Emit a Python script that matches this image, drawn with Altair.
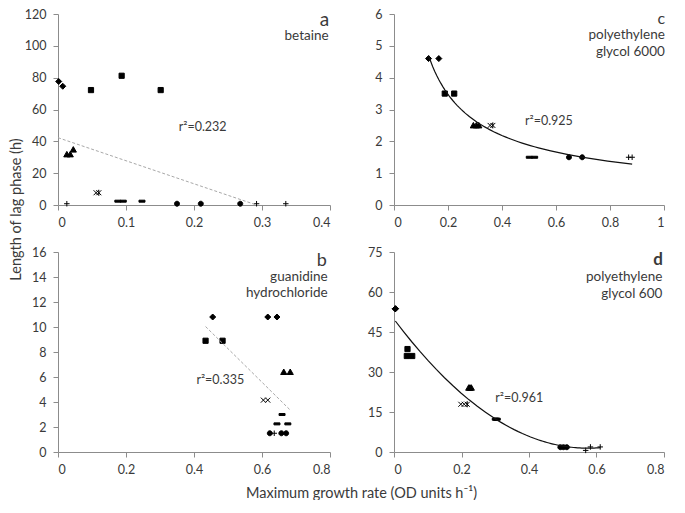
import altair as alt
import pandas as pd

# ---------------- data ----------------
# panel a : betaine
a_marker = ["diamond", "diamond", "square", "square", "square", "triangle", "triangle", "triangle",
            "cross", "star", "dash", "dash", "dash", "circle", "circle", "circle", "plus", "plus", "plus"]
a_x = [0.001, 0.007, 0.0485, 0.0936, 0.151, 0.013, 0.018, 0.0225,
       0.056, 0.060, 0.088, 0.096, 0.1235, 0.175, 0.210, 0.268, 0.013, 0.292, 0.335]
a_y = [77.6, 74.6, 72.2, 81.2, 72.2, 31.8, 31.8, 34.8,
       7.7, 7.7, 2.4, 2.4, 2.4, 0.8, 0.8, 0.8, 0.8, 0.8, 0.8]

# panel c : polyethylene glycol 6000
c_marker = ["diamond", "diamond", "square", "square", "triangle", "triangle", "triangle",
            "cross", "star", "dash", "dash", "circle", "circle", "plus", "plus"]
c_x = [0.128, 0.166, 0.188, 0.223, 0.294, 0.305, 0.314,
       0.356, 0.366, 0.501, 0.521, 0.648, 0.697, 0.869, 0.882]
c_y = [4.6, 4.6, 3.5, 3.5, 2.5, 2.5, 2.5,
       2.5, 2.5, 1.5, 1.5, 1.5, 1.5, 1.5, 1.5]

# panel b : guanidine hydrochloride
b_marker = ["diamond", "diamond", "diamond", "square", "square", "triangle", "triangle",
            "cross", "cross", "dash", "dash", "dash", "circle", "circle", "circle", "plus"]
b_x = [0.455, 0.617, 0.644, 0.434, 0.484, 0.664, 0.683,
       0.604, 0.617, 0.659, 0.644, 0.676, 0.623, 0.657, 0.671, 0.636]
b_y = [10.8, 10.8, 10.8, 8.9, 8.9, 6.4, 6.4,
       4.15, 4.15, 3.0, 2.25, 2.25, 1.5, 1.5, 1.5, 1.5]

# panel d : polyethylene glycol 600 (replicates that overlap in the picture are repeated)
d_marker = ["diamond", "diamond", "diamond", "square", "square", "square",
            "triangle", "triangle", "triangle", "cross", "cross", "star",
            "dash", "dash", "dash", "circle", "circle", "circle", "plus", "plus", "plus"]
d_x = [0.004, 0.004, 0.004, 0.040, 0.038, 0.054,
       0.2215, 0.225, 0.229, 0.198, 0.208, 0.217,
       0.300, 0.303, 0.306, 0.493, 0.502, 0.512, 0.568, 0.582, 0.611]
d_y = [53.7, 53.7, 53.7, 38.6, 36.0, 36.0,
       24.1, 24.1, 24.1, 17.9, 17.9, 17.9,
       12.3, 12.3, 12.3, 1.8, 1.8, 1.8, 0.6, 1.9, 1.9]

# annotations (text, x, y in data units of each panel)
a_letter = ("a", 0.399, 112.5)
a_names = (["betaine"], [0.398], [103.6])
a_r2 = ("r\u00b2=0.232", 0.1775, 46.6)

c_letter = ("c", 1.004, 5.7)
c_names = (["polyethylene", "glycol 6000"], [1.003, 1.003], [5.22, 4.685])
c_r2 = ("r\u00b2=0.925", 0.485, 2.51)

b_letter = ("b", 0.791, 14.85)
b_names = (["guanidine", "hydrochloride"], [0.793, 0.793], [13.69, 12.37])
b_r2 = ("r\u00b2=0.335", 0.407, 5.47)

d_letter = ("d", 0.797, 70.0)
d_names = (["polyethylene", "glycol 600"], [0.795, 0.795], [64.3, 57.8])
d_r2 = ("r\u00b2=0.961", 0.30, 18.8)

y_title = "Length of lag phase (h)"
x_title = "Maximum growth rate (OD units h\u207b\u00b9)"

# ---------------- styling ----------------
FONT = "Lato"
TXT = "#3a3a3a"
AXC = "#8c8c8c"

SHAPES = {
    "diamond": "M0,-0.6L0.6,0L0,0.6L-0.6,0Z",
    "square": "M-0.52,-0.52H0.52V0.52H-0.52Z",
    "triangle": "M0,-0.6L0.62,0.5L-0.62,0.5Z",
    "cross": "M-0.5,-0.5L0.5,0.5M-0.5,0.5L0.5,-0.5",
    "star": "M-0.5,-0.5L0.5,0.5M-0.5,0.5L0.5,-0.5M0,-0.6V0.6",
    "dash": "M-0.6,-0.2H0.6V0.2H-0.6Z",
    "circle": "M0.5,0A0.5,0.5 0 1,1 -0.5,0A0.5,0.5 0 1,1 0.5,0Z",
    "plus": "M-0.55,0H0.55M0,-0.55V0.55",
}

DASHED = dict(color="#a8a8a8", strokeDash=[3, 2], strokeWidth=1)
SOLID = dict(color="#111111", strokeWidth=1.2)


def make_panel(markers, xs, ys, xdom, xticks, ydom, yticks, w, h, method, extent, style,
               letter, letter_size, letter_weight, names, r2, xaxis_extra, yaxis_extra):
    df = pd.DataFrame({"m": markers, "x": xs, "y": ys})
    xkw = dict(values=xticks, format="~f", title=None)
    xkw.update(xaxis_extra)
    ykw = dict(values=yticks, format="~f", title=None, labelPadding=7)
    ykw.update(yaxis_extra)
    xenc = alt.X("x:Q", scale=alt.Scale(domain=xdom, nice=False, zero=False), axis=alt.Axis(**xkw))
    yenc = alt.Y("y:Q", scale=alt.Scale(domain=ydom, nice=False, zero=False), axis=alt.Axis(**ykw))

    pts = alt.Chart(df).mark_point(
        size=100, filled=True, fill="black", stroke="black", strokeWidth=1, opacity=1
    ).encode(
        x=xenc, y=yenc,
        shape=alt.Shape("m:N", scale=alt.Scale(domain=list(SHAPES.keys()),
                                               range=list(SHAPES.values())), legend=None),
    )

    reg_kw = {"method": method}
    if extent is not None:
        reg_kw["extent"] = extent
    trend = alt.Chart(df).transform_regression("x", "y", **reg_kw).mark_line(
        clip=True, **style).encode(x=xenc, y=yenc)

    let_df = pd.DataFrame({"x": [letter[1]], "y": [letter[2]], "t": [letter[0]]})
    let_layer = alt.Chart(let_df).mark_text(
        align="right", baseline="alphabetic", font=FONT, fontSize=letter_size,
        fontWeight=letter_weight, color=TXT
    ).encode(x=xenc, y=yenc, text="t:N")

    nm_df = pd.DataFrame({"t": names[0], "x": names[1], "y": names[2]})
    nm_layer = alt.Chart(nm_df).mark_text(
        align="right", baseline="alphabetic", font=FONT, fontSize=13.5, color=TXT
    ).encode(x=xenc, y=yenc, text="t:N")

    r2_df = pd.DataFrame({"x": [r2[1]], "y": [r2[2]], "t": [r2[0]]})
    r2_layer = alt.Chart(r2_df).mark_text(
        align="left", baseline="alphabetic", font=FONT, fontSize=12.5, color=TXT
    ).encode(x=xenc, y=yenc, text="t:N")

    return alt.layer(pts, trend, let_layer, nm_layer, r2_layer).properties(width=w, height=h)


W1, W2 = 272, 270
H1, H2 = 191, 200

pa = make_panel(a_marker, a_x, a_y, [0, 0.4], [0, 0.1, 0.2, 0.3, 0.4], [0, 120],
                [0, 20, 40, 60, 80, 100, 120], W1, H1, "linear", [0, 0.335], DASHED,
                a_letter, 19, "normal", a_names, a_r2, {},
                dict(title=y_title, titleX=-42, titleY=195, titleBaseline="middle",
                     titleAlign="center", titleAngle=270))
pc = make_panel(c_marker, c_x, c_y, [0, 1], [0, 0.2, 0.4, 0.6, 0.8, 1], [0, 6],
                [0, 1, 2, 3, 4, 5, 6], W2, H1, "pow", None, SOLID,
                c_letter, 16, "normal", c_names, c_r2, {}, {})
pb = make_panel(b_marker, b_x, b_y, [0, 0.8], [0, 0.2, 0.4, 0.6, 0.8], [0, 16],
                [0, 2, 4, 6, 8, 10, 12, 14, 16], W1, H2, "linear", None, DASHED,
                b_letter, 18, "normal", b_names, b_r2,
                dict(title=x_title, titleX=303, titleY=41, titleBaseline="middle",
                     titleAlign="center"), {})
pd_ = make_panel(d_marker, d_x, d_y, [0, 0.8], [0, 0.2, 0.4, 0.6, 0.8], [0, 75],
                 [0, 15, 30, 45, 60, 75], W2, H2, "quad", None, SOLID,
                 d_letter, 17, "bold", d_names, d_r2, {}, {})

chart = alt.concat(
    pa, pc, pb, pd_, columns=2, spacing={"row": 47, "column": 64}, bounds="flush"
).properties(padding=0).configure_axis(
    grid=False, domainColor=AXC, tickColor=AXC, tickSize=5, domainWidth=1, tickWidth=1,
    labelFont=FONT, labelFontSize=12.5, labelColor=TXT, labelPadding=6,
    titleFont=FONT, titleFontSize=14.5, titleColor=TXT, titleFontWeight="normal",
).configure_view(stroke=None)

chart.save("out.html", embed_options={"renderer": "svg", "actions": False})
